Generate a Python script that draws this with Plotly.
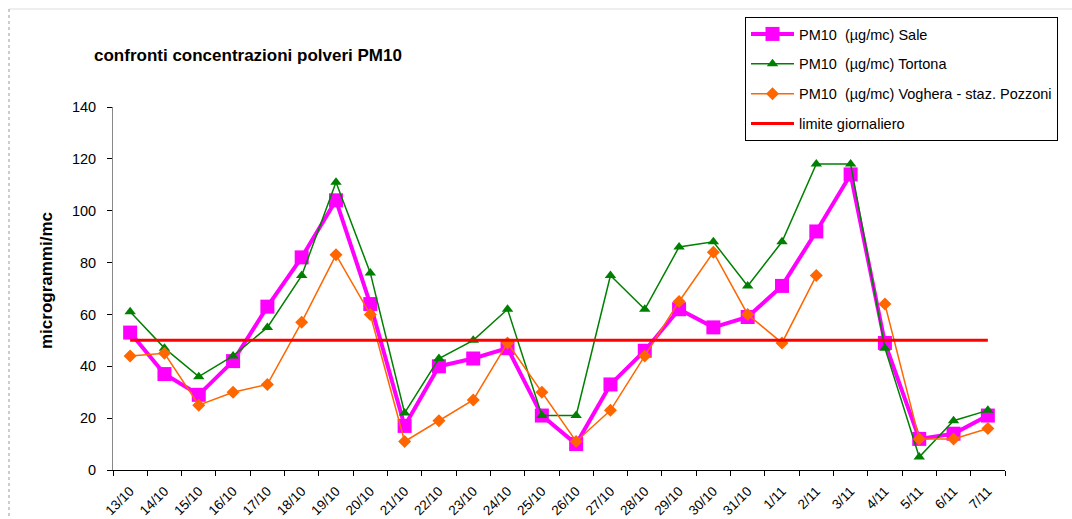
import plotly.graph_objects as go

categories = ["13/10", "14/10", "15/10", "16/10", "17/10", "18/10", "19/10", "20/10", "21/10",
              "22/10", "23/10", "24/10", "25/10", "26/10", "27/10", "28/10", "29/10", "30/10",
              "31/10", "1/11", "2/11", "3/11", "4/11", "5/11", "6/11", "7/11"]
sale = [53, 37, 29, 42, 63, 82, 104, 64, 17, 40, 43, 47, 21, 10, 33, 46, 62, 55, 59, 71, 92, 114, 49, 12, 14, 21]
tortona = [61, 47, 36, 44, 55, 75, 111, 76, 22, 43, 50, 62, 21, 21, 75, 62, 86, 88, 71, 88, 118, 118, 47, 5, 19, 23]
voghera = [44, 45, 25, 30, 33, 57, 83, 60, 11, 19, 27, 49, 30, 11, 23, 44, 65, 84, 60, 49, 75, None, 64, 12, 12, 16]
limite = [50] * len(categories)

FONT = "Liberation Sans, Arial, sans-serif"
L, R, T, B = 113, 1005, 107, 470
W, H = R - L, B - T

def px(xp):
    return (xp - L) / W

def py(yp):
    return (B - yp) / H

fig = go.Figure()
fig.add_trace(go.Scatter(x=categories, y=sale, name="PM10  (µg/mc) Sale", mode="lines+markers",
                         line=dict(color="#FF00FF", width=4),
                         marker=dict(symbol="square", size=14, color="#FF00FF"),
                         legendgroup="a"))
fig.add_trace(go.Scatter(x=categories, y=tortona, name="PM10  (µg/mc) Tortona", mode="lines+markers",
                         line=dict(color="#008000", width=1.5),
                         marker=dict(symbol="triangle-up", size=10, color="#008000"),
                         legendgroup="b"))
fig.add_trace(go.Scatter(x=categories, y=voghera, name="PM10  (µg/mc) Voghera - staz. Pozzoni", mode="lines+markers",
                         line=dict(color="#FF6600", width=1.5),
                         marker=dict(symbol="diamond", size=10, color="#FF6600"),
                         connectgaps=False, legendgroup="c"))
fig.add_trace(go.Scatter(x=categories, y=limite, name="limite giornaliero", mode="lines",
                         line=dict(color="#FF0000", width=3), legendgroup="d"))

fig.update_layout(
    width=1072, height=519,
    margin=dict(l=L, r=1072 - R, t=T, b=519 - B, autoexpand=False),
    paper_bgcolor="white", plot_bgcolor="white",
    font=dict(family=FONT, color="black", size=13),
    showlegend=True,
    legend=dict(x=px(745), y=py(17), xanchor="left", yanchor="top",
                bordercolor="black", borderwidth=1, bgcolor="white",
                font=dict(size=14.5, family=FONT), tracegroupgap=8,
                itemwidth=43),
    xaxis=dict(type="category", range=[-0.5, 25.5], showgrid=False, automargin=False,
               showline=True, linecolor="black", linewidth=1,
               ticks="outside", tickson="boundaries", ticklen=5, tickcolor="black",
               ticklabelstandoff=7,
               tickangle=-45, tickfont=dict(size=13.5, family=FONT)),
    yaxis=dict(range=[0, 140], dtick=20, showgrid=False, zeroline=False, automargin=False,
               showline=True, linecolor="#888888", linewidth=1,
               ticks="outside", ticklen=5, tickcolor="black",
               ticklabelstandoff=8,
               tickfont=dict(size=14.5, family=FONT)),
    annotations=[
        dict(text="<b>confronti concentrazioni polveri PM10</b>", xref="paper", yref="paper",
             x=px(92), y=py(55), xanchor="left", yanchor="middle",
             showarrow=False, font=dict(size=17, family=FONT)),
        dict(text="<b>microgrammi/mc</b>", xref="paper", yref="paper",
             x=px(46), y=py(281), xanchor="center", yanchor="middle", textangle=-90,
             showarrow=False, font=dict(size=17, family=FONT)),
    ],
    shapes=[
        dict(type="line", xref="paper", yref="paper", x0=px(9), x1=px(1072),
             y0=py(9), y1=py(9), line=dict(color="#DDDDDD", width=1)),
        dict(type="line", xref="paper", yref="paper", x0=px(9), x1=px(9),
             y0=py(9), y1=py(519), line=dict(color="#999999", width=1, dash="dot")),
    ],
)

fig.write_html("out.html", config={"displayModeBar": False},
               post_script="document.body.style.margin='0';document.body.style.overflow='hidden';")
